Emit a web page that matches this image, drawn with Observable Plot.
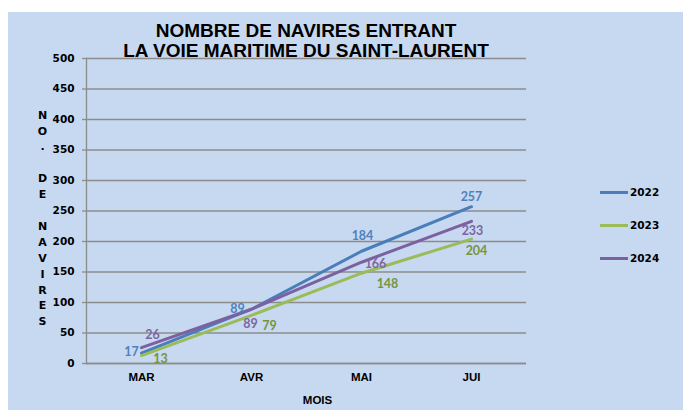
<!DOCTYPE html>
<html><head><meta charset="utf-8">
<script src="https://cdn.jsdelivr.net/npm/d3@7"></script>
<script src="https://cdn.jsdelivr.net/npm/@observablehq/plot@0.6"></script>
<style>
html,body{margin:0;padding:0;background:#fff;}
#wrap{position:relative;width:683px;height:410px;overflow:hidden;}
#panel{position:absolute;left:8px;top:12px;right:0;bottom:0;background:#c6d9f0;}
#chart{position:absolute;left:0;top:0;}
#title{position:absolute;left:106px;width:400px;top:20.7px;text-align:center;font-family:"Liberation Sans",Arial,sans-serif;font-weight:bold;font-size:19px;line-height:20px;color:#000;white-space:nowrap;}
#legend{position:absolute;left:600px;top:0;font-family:"DejaVu Sans",sans-serif;font-weight:bold;font-size:10.5px;color:#000;}
.lg{position:absolute;left:0;height:14px;white-space:nowrap;}
.lg .sw{position:absolute;left:0;top:5.5px;width:28px;height:3px;}
.lg .tx{position:absolute;left:30px;top:0;line-height:14px;}
</style></head>
<body>
<div id="wrap">
  <div id="panel"></div>
  <div id="chart"></div>
  <div id="title"></div>
  <div id="legend"></div>
</div>
<script>
// ---- data ----
const months = ["MAR", "AVR", "MAI", "JUI"];
const seriesNames = ["2022", "2023", "2024"];
const v2022 = [17, 89, 184, 257];
const v2023 = [13, 79, 148, 204];
const v2024 = [26, 89, 166, 233];
const yTicks = [0, 50, 100, 150, 200, 250, 300, 350, 400, 450, 500];
const titleLines = ["NOMBRE DE NAVIRES ENTRANT", "LA VOIE MARITIME DU SAINT-LAURENT"];
const xTitle = "MOIS";
const yTitle = "NO. DE NAVIRES";

// ---- styles ----
const lineColors = ["#4a7ebb", "#9bbb59", "#7d60a0"];
const labelColors = ["#4f81bd", "#77933c", "#8064a2"];
const labelOffsets = [
  [[-10, -1], [-14, 0], [1, -15], [0, -10]],
  [[19, 3], [18, 11], [26, 11], [5, 12]],
  [[11, -13], [-1, 15], [14, 2], [1, 10]]
];
const gridColor = "#8c8c8c";

const values = [v2022, v2023, v2024];
const rows = [];
seriesNames.forEach((s, si) => months.forEach((m, i) => rows.push({series: s, month: m, value: values[si][i], si, i})));

// stacked y title
const yTitleStacked = yTitle.split("").map(c => c === " " ? "\u00a0" : c).join("\n");

const labelMarks = rows.map(r => Plot.text([r], {
  x: "month", y: "value", text: d => String(d.value),
  dx: labelOffsets[r.si][r.i][0], dy: labelOffsets[r.si][r.i][1],
  fill: labelColors[r.si], fontFamily: "Lato, 'Open Sans', sans-serif", fontWeight: "bold", fontSize: 12.5,
  textAnchor: "middle", lineAnchor: "middle"
}));

const chart = Plot.plot({
  width: 683, height: 410,
  marginLeft: 86, marginRight: 157, marginTop: 58, marginBottom: 47,
  style: {background: "transparent", color: "#000", overflow: "visible"},
  x: {type: "point", domain: months, padding: 0.5, axis: null},
  y: {domain: [0, 500], axis: null},
  color: {domain: seriesNames, range: lineColors},
  marks: [
    Plot.gridY(yTicks, {stroke: gridColor, strokeOpacity: 1, strokeWidth: 1.3}),
    Plot.axisY(yTicks, {tickSize: 4, tickPadding: 8, stroke: gridColor, strokeWidth: 1.3, fill: "#000",
      fontFamily: "DejaVu Sans, sans-serif", fontWeight: "bold", fontSize: 10.5, label: null, tickFormat: d => String(d)}),
    Plot.frame({anchor: "left", stroke: gridColor, strokeWidth: 1.3}),
    Plot.ruleY([0], {stroke: gridColor, strokeWidth: 1.3}),
    Plot.axisX({tickSize: 0, tickPadding: 9, fill: "#000", fontFamily: "Liberation Sans, Arial, sans-serif",
      fontWeight: "bold", fontSize: 11.5, label: null}),
    Plot.text([xTitle], {frameAnchor: "bottom", dy: 37, dx: 11, lineAnchor: "middle",
      fontFamily: "Liberation Sans, Arial, sans-serif", fontWeight: "bold", fontSize: 11.5, fill: "#000"}),
    Plot.text([yTitleStacked], {frameAnchor: "left", dx: -44, dy: 5.9, lineAnchor: "middle", textAnchor: "middle",
      lineHeight: 1.445, fontFamily: "DejaVu Sans, sans-serif", fontWeight: "bold", fontSize: 11, fill: "#000"}),
    Plot.line(rows, {x: "month", y: "value", z: "series", stroke: "series", strokeWidth: 3, curve: "linear"}),
    ...labelMarks
  ]
});
document.getElementById("chart").appendChild(chart);

// title
document.getElementById("title").innerHTML = titleLines.map(t => `<div>${t}</div>`).join("");

// legend
const legendY = [192.3, 225, 258.3];
const lg = document.getElementById("legend");
seriesNames.forEach((s, i) => {
  const row = document.createElement("div");
  row.className = "lg";
  row.style.top = (legendY[i] - 7) + "px";
  row.innerHTML = `<div class="sw" style="background:${lineColors[i]}"></div><div class="tx">${s}</div>`;
  lg.appendChild(row);
});
</script>
</body></html>
